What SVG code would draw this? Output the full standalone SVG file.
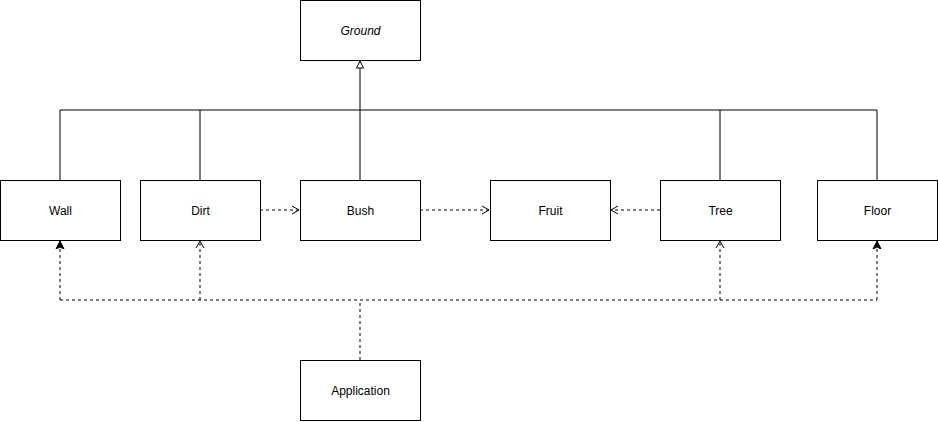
<svg xmlns="http://www.w3.org/2000/svg" width="938" height="422" viewBox="0 0 938 422">
<style>
.box{fill:#fff;stroke:#000;stroke-width:1}
.lbl{font-family:"Liberation Sans",Arial,sans-serif;font-size:12px;fill:#000;text-anchor:middle;dominant-baseline:central}
.ln{fill:none;stroke:#000;stroke-width:1}
.dash{fill:none;stroke:#000;stroke-width:1;stroke-dasharray:3 3}
</style>
<defs>
<marker id="open" markerWidth="10" markerHeight="10" refX="8" refY="5" orient="auto" markerUnits="userSpaceOnUse"><path d="M1,1 L8,5 L1,9" fill="none" stroke="#000" stroke-width="1"/></marker>
<marker id="filled" markerWidth="10" markerHeight="10" refX="8" refY="5" orient="auto" markerUnits="userSpaceOnUse"><path d="M0,1 L8,5 L0,9 L2,5 Z" fill="#000" stroke="#000" stroke-width="1"/></marker>
<marker id="tri" markerWidth="10" markerHeight="10" refX="8" refY="5" orient="auto" markerUnits="userSpaceOnUse"><path d="M1,1.5 L8,5 L1,8.5 Z" fill="#fff" stroke="#000" stroke-width="1"/></marker>
</defs>
<g id="connectors">
<path class="ln" d="M60,180 V110 H877 V180"/>
<path class="ln" d="M200,180 V110"/>
<path class="ln" d="M720,180 V110"/>
<path class="ln" d="M360,180 V61" marker-end="url(#tri)"/>
<path class="dash" d="M260,210 H299" marker-end="url(#open)"/>
<path class="dash" d="M420,210 H489" marker-end="url(#open)"/>
<path class="dash" d="M660,210 H611" marker-end="url(#open)"/>
<path class="dash" d="M360,360 V300"/>
<path class="dash" d="M60,300 H877"/>
<path class="dash" d="M60,300 V241" marker-end="url(#filled)"/>
<path class="dash" d="M200,300 V241" marker-end="url(#open)"/>
<path class="dash" d="M720,300 V241" marker-end="url(#open)"/>
<path class="dash" d="M877,300 V241" marker-end="url(#filled)"/>
</g>
<g id="ground"><rect class="box" x="300.5" y="0.5" width="120" height="60"/><text class="lbl" x="360.5" y="30.5" font-style="italic">Ground</text></g>
<g id="wall"><rect class="box" x="0.5" y="180.5" width="120" height="60"/><text class="lbl" x="60.5" y="210.5">Wall</text></g>
<g id="dirt"><rect class="box" x="140.5" y="180.5" width="120" height="60"/><text class="lbl" x="200.5" y="210.5">Dirt</text></g>
<g id="bush"><rect class="box" x="300.5" y="180.5" width="120" height="60"/><text class="lbl" x="360.5" y="210.5">Bush</text></g>
<g id="fruit"><rect class="box" x="490.5" y="180.5" width="120" height="60"/><text class="lbl" x="550.5" y="210.5">Fruit</text></g>
<g id="tree"><rect class="box" x="660.5" y="180.5" width="120" height="60"/><text class="lbl" x="720.5" y="210.5">Tree</text></g>
<g id="floor"><rect class="box" x="817.5" y="180.5" width="120" height="60"/><text class="lbl" x="877.5" y="210.5">Floor</text></g>
<g id="application"><rect class="box" x="300.5" y="360.5" width="120" height="60"/><text class="lbl" x="360.5" y="390.5">Application</text></g>
</svg>
